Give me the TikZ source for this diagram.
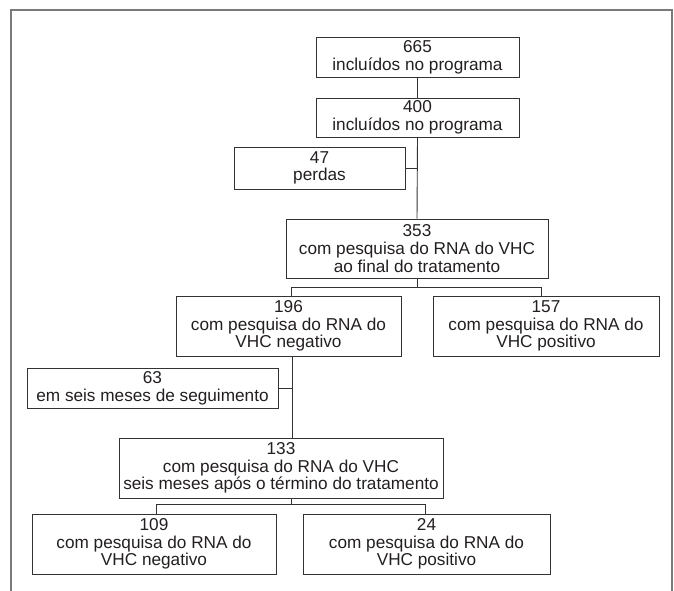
\documentclass[tikz,border=0pt]{standalone}
\usepackage{fontspec}
\setmainfont{Liberation Sans}
\definecolor{ink}{HTML}{231F20}
\definecolor{linec}{HTML}{333333}
\definecolor{framec}{HTML}{7A7A7A}
\begin{document}
\begin{tikzpicture}[x=1pt,y=-1pt,
  box/.style={draw=linec, line width=0.9pt, inner sep=0pt, align=center, text=ink,
    font=\fontsize{17.2}{17.6}\selectfont, anchor=center},
  conn/.style={draw=linec, line width=0.9pt},
  framestyle/.style={draw=framec, line width=1.3pt}]
\useasboundingbox (0,0) rectangle (674,591);
\draw[framestyle] (11,591) -- (11,10) -- (672,10) -- (672,591);

\node[box, minimum width=203pt, minimum height=40pt] (A) at (417.5,57) {665\\incluídos no programa};
\node[box, minimum width=203pt, minimum height=39pt] (B) at (417.5,117.5) {400\\incluídos no programa};
\node[box, minimum width=171pt, minimum height=42pt] (C) at (319.5,168) {47\\perdas};
\node[box, minimum width=262pt, minimum height=59pt] (D) at (417,248.5) {353\\com pesquisa do RNA do VHC\\ao final do tratamento};
\node[box, minimum width=225pt, minimum height=60pt] (E) at (288.5,326) {196\\com pesquisa do RNA do\\VHC negativo};
\node[box, minimum width=226pt, minimum height=60pt] (F) at (546,326) {157\\com pesquisa do RNA do\\VHC positivo};
\node[box, minimum width=251pt, minimum height=40pt] (G) at (152.5,388) {63\\em seis meses de seguimento};
\node[box, minimum width=324pt, minimum height=60pt] (H) at (281,468) {133\\com pesquisa do RNA do VHC\\seis meses após o término do tratamento};
\node[box, minimum width=244pt, minimum height=60pt] (I) at (154,544) {109\\com pesquisa do RNA do\\VHC negativo};
\node[box, minimum width=247pt, minimum height=60pt] (J) at (426.5,544) {24\\com pesquisa do RNA do\\VHC positivo};

\draw[conn] (A.south) -- (B.north);
\draw[conn] (B.south) -- (D.north);
\draw[conn] (C.east) -- (C.east -| B.south);

\coordinate (eL) at (291,287);
\coordinate (eR) at (541,287);
\draw[conn] (D.south) -- (D.south |- eL);
\draw[conn] (eL |- E.north) -- (eL) -- (eR) -- (eR |- F.north);

\coordinate (v2) at (292,400);
\draw[conn] (v2 |- E.south) -- (v2 |- H.north);
\draw[conn] (G.east) -- (G.east -| v2);

\coordinate (hs) at (291,504);
\coordinate (iL) at (156,504);
\coordinate (iR) at (425,504);
\draw[conn] (hs |- H.south) -- (hs);
\draw[conn] (iL |- I.north) -- (iL) -- (iR) -- (iR |- J.north);
\end{tikzpicture}
\end{document}
